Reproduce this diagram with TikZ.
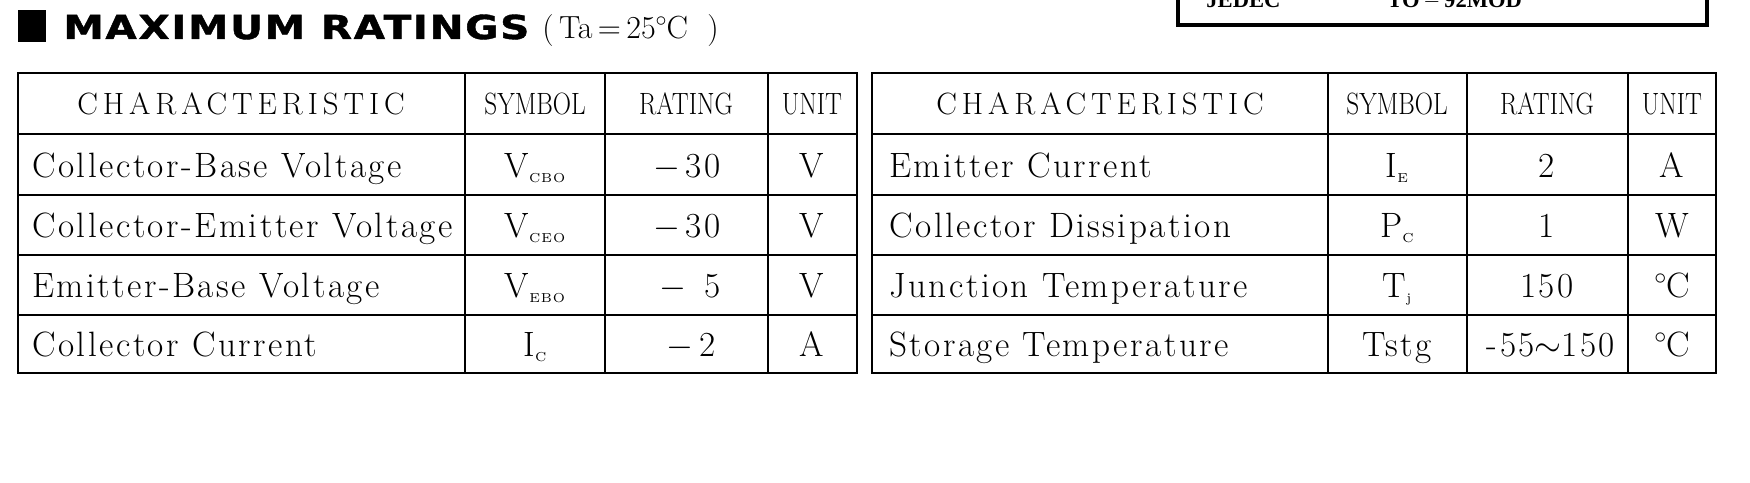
\documentclass[tikz,border=0pt]{standalone}
\usepackage{fontspec}
\usepackage{graphicx}
\newfontfamily\titlefont{DejaVu Sans}[LetterSpace=4,FakeBold=1.2]
\newfontfamily\jedecfont{Liberation Serif}
\newfontfamily\cellfont{Latin Modern Roman}[LetterSpace=7]
\newfontfamily\headfont{Latin Modern Roman}
\newcommand{\degC}{\ensuremath{^{\circ}}\kern-0.5pt C}
\newcommand{\subs}[1]{\raisebox{-2.5pt}{\fontsize{6.5}{7}\selectfont #1}}
\newcommand{\narrow}[1]{\scalebox{0.82}[1]{#1}}

\begin{document}
\begin{tikzpicture}[x=0.5pt,y=-0.5pt]
  \tikzstyle{cell}=[anchor=base west,inner sep=0pt,font=\cellfont\fontsize{17.6}{20}\selectfont]
  \tikzstyle{mid}=[cell,anchor=base]
  \tikzstyle{num}=[cell,anchor=base east]
  \tikzstyle{head}=[anchor=base,inner sep=0pt,font=\headfont\fontsize{15.4}{18}\selectfont]
  \tikzstyle{rule}=[line width=1pt]
  \tikzstyle{frame}=[line width=1.4pt]
  \useasboundingbox (0,0) rectangle (1750,482);

  % title line
  \fill (18,10) rectangle (46,42);
  \node[anchor=base west,inner sep=0pt,font=\titlefont\bfseries\fontsize{16.5}{18}\selectfont]
    (title) at (63,39) {\scalebox{1.23}[1]{MAXIMUM RATINGS}};
  \node[anchor=base west,inner sep=0pt,font=\headfont\fontsize{16}{18}\selectfont]
    (cond) at (542,39) {(\,Ta\,=\,25\degC\ \ )};

  % package box, cut by the top edge
  \draw[line width=2.2pt] (1178,-30) rectangle (1707,25);
  \node[anchor=base west,inner sep=0pt,font=\jedecfont\bfseries\fontsize{11.3}{13}\selectfont]
    (jedec) at (1206,7) {JEDEC};
  \node[anchor=base west,inner sep=0pt,font=\jedecfont\bfseries\fontsize{11.3}{13}\selectfont]
    (pkg) at (1387,7) {TO\,$-$\,92MOD};

  % left table
  \draw[frame] (18,73) rectangle (857,373);
  \draw[rule] (18,134) -- (857,134) (18,195) -- (857,195)
    (18,255) -- (857,255) (18,315) -- (857,315);
  \draw[rule] (465,73) -- (465,373) (605,73) -- (605,373) (768,73) -- (768,373);
  \node[head] (lh1) at (241,114) {\addfontfeature{LetterSpace=16}CHARACTERISTIC};
  \node[head] (lh2) at (535,114) {\narrow{SYMBOL}};
  \node[head] (lh3) at (686,114) {\narrow{RATING}};
  \node[head] (lh4) at (812,114) {\narrow{UNIT}};

  \node[cell] (l1a) at (32,177) {Collector-Base Voltage};
  \node[mid]  (l1b) at (535,177) {V\subs{CBO}};
  \node[num]  (l1c) at (721,177) {$-$\,30};
  \node[mid]  (l1d) at (812,177) {V};

  \node[cell] (l2a) at (32,237) {Collector-Emitter Voltage};
  \node[mid]  (l2b) at (535,237) {V\subs{CEO}};
  \node[num]  (l2c) at (721,237) {$-$\,30};
  \node[mid]  (l2d) at (812,237) {V};

  \node[cell] (l3a) at (32,297) {Emitter-Base Voltage};
  \node[mid]  (l3b) at (535,297) {V\subs{EBO}};
  \node[num]  (l3c) at (721,297) {$-$\enspace 5};
  \node[mid]  (l3d) at (812,297) {V};

  \node[cell] (l4a) at (32,356) {Collector Current};
  \node[mid]  (l4b) at (535,356) {I\subs{C}};
  \node[num]  (l4c) at (716,356) {$-$\,2};
  \node[mid]  (l4d) at (812,356) {A};

  % right table
  \draw[frame] (872,73) rectangle (1716,373);
  \draw[rule] (872,134) -- (1716,134) (872,195) -- (1716,195)
    (872,255) -- (1716,255) (872,315) -- (1716,315);
  \draw[rule] (1328,73) -- (1328,373) (1467,73) -- (1467,373) (1628,73) -- (1628,373);
  \node[head] (rh1) at (1100,114) {\addfontfeature{LetterSpace=16}CHARACTERISTIC};
  \node[head] (rh2) at (1397,114) {\narrow{SYMBOL}};
  \node[head] (rh3) at (1547,114) {\narrow{RATING}};
  \node[head] (rh4) at (1672,114) {\narrow{UNIT}};

  \node[cell] (r1a) at (889,177) {Emitter Current};
  \node[mid]  (r1b) at (1397,177) {I\subs{E}};
  \node[mid]  (r1c) at (1547,177) {2};
  \node[mid]  (r1d) at (1672,177) {A};

  \node[cell] (r2a) at (889,237) {Collector Dissipation};
  \node[mid]  (r2b) at (1397,237) {P\subs{C}};
  \node[mid]  (r2c) at (1547,237) {1};
  \node[mid]  (r2d) at (1672,237) {W};

  \node[cell] (r3a) at (889,297) {Junction Temperature};
  \node[mid]  (r3b) at (1397,297) {T\subs{j}};
  \node[mid]  (r3c) at (1547,297) {150};
  \node[mid]  (r3d) at (1672,297) {\degC};

  \node[cell] (r4a) at (889,356) {Storage Temperature};
  \node[mid]  (r4b) at (1397,356) {Tstg};
  \node[mid]  (r4c) at (1551,356) {-55$\sim$150};
  \node[mid]  (r4d) at (1672,356) {\degC};
\end{tikzpicture}
\end{document}
